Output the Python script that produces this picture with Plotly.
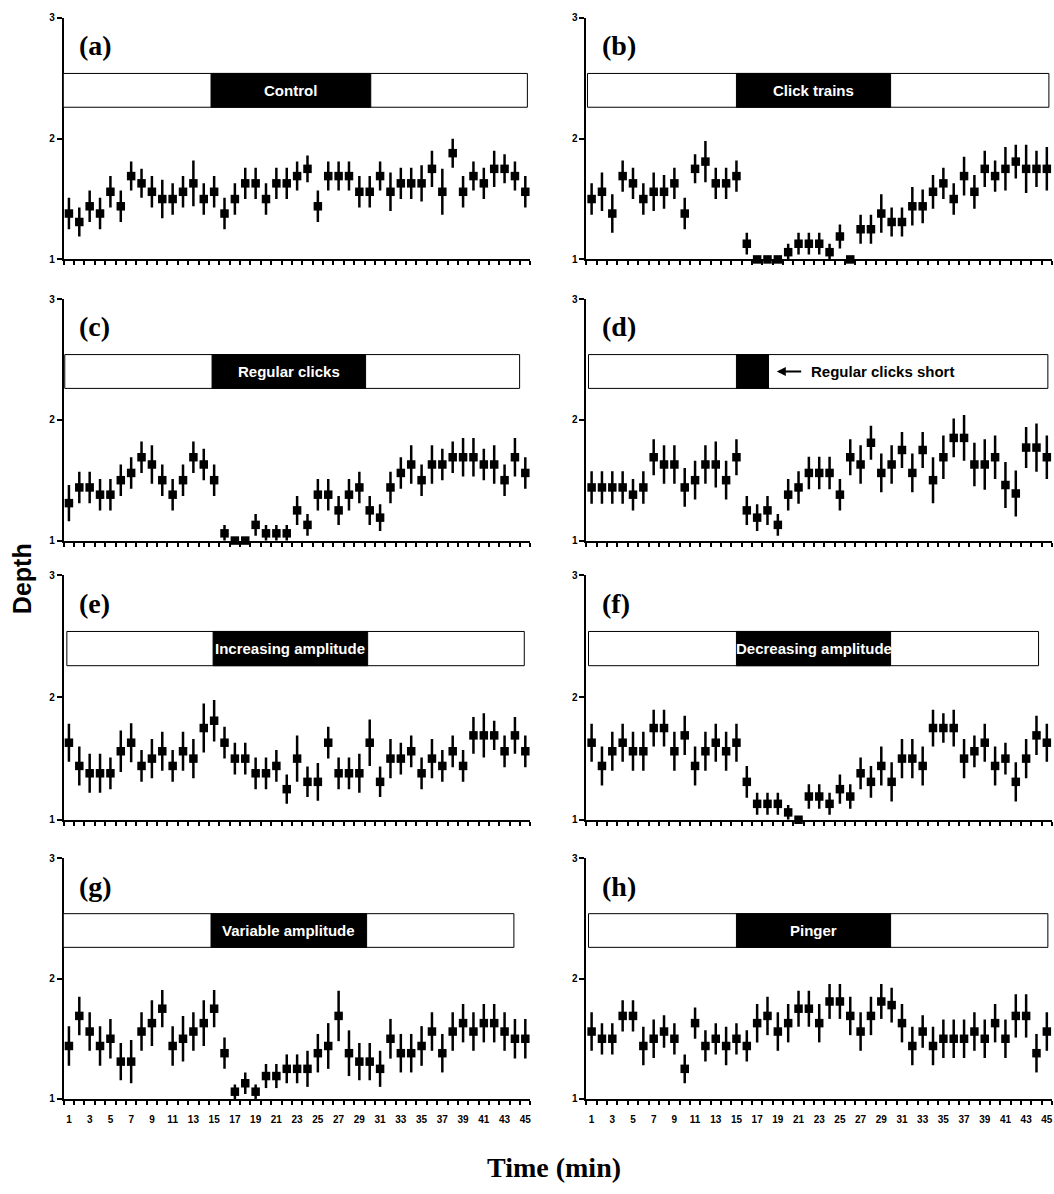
import plotly.graph_objects as go

# ---- data -------------------------------------------------------------
minutes = list(range(1, 46))
tick_labels = [str(m) for m in range(1, 46, 2)]

panel_letters = ["(a)", "(b)", "(c)", "(d)", "(e)", "(f)", "(g)", "(h)"]
treatments = ["Control", "Click trains", "Regular clicks", "Regular clicks short",
              "Increasing amplitude", "Decreasing amplitude", "Variable amplitude", "Pinger"]

control_mean = [1.38, 1.31, 1.44, 1.38, 1.56, 1.44, 1.69, 1.63, 1.56, 1.5, 1.5, 1.56, 1.63, 1.5, 1.56,
                1.38, 1.5, 1.63, 1.63, 1.5, 1.63, 1.63, 1.69, 1.75, 1.44, 1.69, 1.69, 1.69, 1.56, 1.56,
                1.69, 1.56, 1.63, 1.63, 1.63, 1.75, 1.56, 1.88, 1.56, 1.69, 1.63, 1.75, 1.75, 1.69, 1.56]
control_err = [0.13, 0.12, 0.13, 0.13, 0.13, 0.13, 0.12, 0.12, 0.13, 0.16, 0.13, 0.13, 0.19, 0.13, 0.13,
               0.13, 0.13, 0.13, 0.13, 0.13, 0.13, 0.13, 0.12, 0.11, 0.13, 0.12, 0.12, 0.12, 0.13, 0.13,
               0.12, 0.16, 0.13, 0.13, 0.15, 0.15, 0.19, 0.12, 0.13, 0.12, 0.13, 0.15, 0.12, 0.12, 0.13]

click_mean = [1.5, 1.56, 1.38, 1.69, 1.63, 1.5, 1.56, 1.56, 1.63, 1.38, 1.75, 1.81, 1.63, 1.63, 1.69,
              1.13, 1.0, 1.0, 1.0, 1.06, 1.13, 1.13, 1.13, 1.06, 1.19, 1.0, 1.25, 1.25, 1.38, 1.31,
              1.31, 1.44, 1.44, 1.56, 1.63, 1.5, 1.69, 1.56, 1.75, 1.69, 1.75, 1.81, 1.75, 1.75, 1.75]
click_err = [0.13, 0.16, 0.16, 0.13, 0.13, 0.13, 0.16, 0.14, 0.13, 0.13, 0.12, 0.17, 0.13, 0.13, 0.13,
             0.09, 0.0, 0.0, 0.0, 0.07, 0.09, 0.09, 0.09, 0.07, 0.1, 0.0, 0.12, 0.12, 0.16, 0.12,
             0.12, 0.16, 0.14, 0.14, 0.13, 0.13, 0.16, 0.14, 0.15, 0.13, 0.18, 0.14, 0.2, 0.15, 0.18]

regular_mean = [1.31, 1.44, 1.44, 1.38, 1.38, 1.5, 1.56, 1.69, 1.63, 1.5, 1.38, 1.5, 1.69, 1.63, 1.5,
                1.06, 1.0, 1.0, 1.13, 1.06, 1.06, 1.06, 1.25, 1.13, 1.38, 1.38, 1.25, 1.38, 1.44, 1.25,
                1.19, 1.44, 1.56, 1.63, 1.5, 1.63, 1.63, 1.69, 1.69, 1.69, 1.63, 1.63, 1.5, 1.69, 1.56]
regular_err = [0.15, 0.13, 0.13, 0.13, 0.13, 0.13, 0.13, 0.13, 0.16, 0.13, 0.13, 0.13, 0.13, 0.13, 0.13,
               0.07, 0.0, 0.0, 0.09, 0.07, 0.07, 0.07, 0.12, 0.09, 0.13, 0.13, 0.12, 0.13, 0.13, 0.12,
               0.11, 0.13, 0.13, 0.16, 0.13, 0.16, 0.13, 0.13, 0.16, 0.16, 0.13, 0.16, 0.13, 0.16, 0.13]

short_mean = [1.44, 1.44, 1.44, 1.44, 1.38, 1.44, 1.69, 1.63, 1.63, 1.44, 1.5, 1.63, 1.63, 1.5, 1.69,
              1.25, 1.19, 1.25, 1.13, 1.38, 1.44, 1.56, 1.56, 1.56, 1.38, 1.69, 1.63, 1.81, 1.56, 1.63,
              1.75, 1.56, 1.75, 1.5, 1.69, 1.85, 1.85, 1.63, 1.63, 1.69, 1.46, 1.39, 1.77, 1.77, 1.69]
short_err = [0.135, 0.135, 0.135, 0.135, 0.13, 0.135, 0.15, 0.16, 0.16, 0.16, 0.16, 0.16, 0.19, 0.16, 0.15,
             0.12, 0.11, 0.12, 0.09, 0.13, 0.135, 0.135, 0.135, 0.135, 0.13, 0.15, 0.16, 0.14, 0.16, 0.16,
             0.15, 0.16, 0.15, 0.19, 0.18, 0.16, 0.19, 0.18, 0.21, 0.18, 0.19, 0.19, 0.17, 0.2, 0.18]

increasing_mean = [1.63, 1.44, 1.38, 1.38, 1.38, 1.56, 1.63, 1.44, 1.5, 1.56, 1.44, 1.56, 1.5, 1.75, 1.81,
                   1.63, 1.5, 1.5, 1.38, 1.38, 1.44, 1.25, 1.5, 1.31, 1.31, 1.63, 1.38, 1.38, 1.38, 1.63,
                   1.31, 1.5, 1.5, 1.56, 1.38, 1.5, 1.44, 1.56, 1.44, 1.69, 1.69, 1.69, 1.56, 1.69, 1.56]
increasing_err = [0.155, 0.16, 0.16, 0.16, 0.13, 0.17, 0.16, 0.13, 0.16, 0.16, 0.13, 0.16, 0.16, 0.2, 0.17,
                  0.13, 0.13, 0.13, 0.13, 0.13, 0.13, 0.12, 0.19, 0.125, 0.155, 0.13, 0.13, 0.13, 0.16, 0.19,
                  0.125, 0.16, 0.13, 0.13, 0.13, 0.16, 0.13, 0.13, 0.13, 0.15, 0.18, 0.12, 0.13, 0.15, 0.13]

decreasing_mean = [1.63, 1.44, 1.56, 1.63, 1.56, 1.56, 1.75, 1.75, 1.56, 1.69, 1.44, 1.56, 1.63, 1.56, 1.63,
                   1.31, 1.13, 1.13, 1.13, 1.06, 1.0, 1.19, 1.19, 1.13, 1.25, 1.19, 1.38, 1.31, 1.44, 1.31,
                   1.5, 1.5, 1.44, 1.75, 1.75, 1.75, 1.5, 1.56, 1.63, 1.44, 1.5, 1.31, 1.5, 1.69, 1.63]
decreasing_err = [0.155, 0.16, 0.16, 0.155, 0.16, 0.16, 0.15, 0.15, 0.16, 0.16, 0.16, 0.16, 0.155, 0.16, 0.155,
                  0.13, 0.09, 0.09, 0.09, 0.06, 0.0, 0.1, 0.1, 0.09, 0.12, 0.1, 0.13, 0.13, 0.16, 0.16,
                  0.16, 0.16, 0.16, 0.15, 0.12, 0.15, 0.16, 0.13, 0.155, 0.16, 0.13, 0.16, 0.16, 0.16, 0.155]

variable_mean = [1.44, 1.69, 1.56, 1.44, 1.5, 1.31, 1.31, 1.56, 1.63, 1.75, 1.44, 1.5, 1.56, 1.63, 1.75,
                 1.38, 1.06, 1.13, 1.06, 1.19, 1.19, 1.25, 1.25, 1.25, 1.38, 1.44, 1.69, 1.38, 1.31, 1.31,
                 1.25, 1.5, 1.38, 1.38, 1.44, 1.56, 1.38, 1.56, 1.63, 1.56, 1.63, 1.63, 1.56, 1.5, 1.5]
variable_err = [0.165, 0.16, 0.16, 0.165, 0.165, 0.155, 0.18, 0.16, 0.19, 0.155, 0.165, 0.19, 0.16, 0.19, 0.155,
                0.13, 0.06, 0.09, 0.06, 0.1, 0.1, 0.12, 0.12, 0.15, 0.16, 0.19, 0.21, 0.19, 0.155, 0.155,
                0.15, 0.165, 0.16, 0.16, 0.165, 0.16, 0.16, 0.16, 0.16, 0.16, 0.16, 0.16, 0.16, 0.165, 0.165]

pinger_mean = [1.56, 1.5, 1.5, 1.69, 1.69, 1.44, 1.5, 1.56, 1.5, 1.25, 1.63, 1.44, 1.5, 1.44, 1.5,
               1.44, 1.63, 1.69, 1.56, 1.63, 1.75, 1.75, 1.63, 1.81, 1.81, 1.69, 1.56, 1.69, 1.81, 1.78,
               1.63, 1.44, 1.56, 1.44, 1.5, 1.5, 1.5, 1.56, 1.5, 1.63, 1.5, 1.69, 1.69, 1.38, 1.56]
pinger_err = [0.16, 0.13, 0.13, 0.13, 0.13, 0.16, 0.16, 0.135, 0.13, 0.12, 0.13, 0.13, 0.13, 0.16, 0.13,
              0.13, 0.16, 0.16, 0.16, 0.16, 0.15, 0.15, 0.16, 0.145, 0.145, 0.16, 0.16, 0.16, 0.145, 0.145,
              0.16, 0.16, 0.135, 0.16, 0.16, 0.16, 0.16, 0.16, 0.16, 0.16, 0.16, 0.18, 0.18, 0.16, 0.16]

# exposure period (black) and whole-session (white) extents, in minutes
session_start = [0.45, 0.6, 0.6, 0.7, 0.8, 0.7, 0.45, 0.7]
session_end = [45.2, 45.2, 44.45, 45.1, 44.9, 44.2, 43.9, 45.1]
exposure_start = [14.7, 15.0, 14.8, 15.0, 14.9, 15.0, 14.7, 15.0]
exposure_end = [30.1, 29.9, 29.6, 18.1, 29.8, 29.9, 29.7, 29.9]

means = [control_mean, click_mean, regular_mean, short_mean,
         increasing_mean, decreasing_mean, variable_mean, pinger_mean]
errors = [control_err, click_err, regular_err, short_err,
          increasing_err, decreasing_err, variable_err, pinger_err]

# ---- layout geometry (paper fractions) ----------------------------------
W, H = 1054, 1194
col_domains = [[63.8 / W, 531.0 / W], [587.0 / W, 1053.0 / W]]
row_px = [(12, 256), (296, 540), (575, 822), (861, 1104)]
row_domains = [[1 - b / H, 1 - t / H] for t, b in row_px]

SANS = "Liberation Sans, Arial, Helvetica, sans-serif"
SERIF = "Liberation Serif, Times New Roman, serif"

fig = go.Figure()
layout = dict(
    width=W, height=H,
    margin=dict(l=0, r=0, t=0, b=0),
    paper_bgcolor="white", plot_bgcolor="white",
    showlegend=False,
)

shapes = []
annotations = []
half_ticks = [k + 0.5 for k in range(0, 46)]
BOX_Y0, BOX_Y1 = 2.26, 2.54

for i in range(8):
    row, col = divmod(i, 2)
    n = i + 1
    xname = "x" if n == 1 else f"x{n}"
    yname = "y" if n == 1 else f"y{n}"
    xkey = "xaxis" if n == 1 else f"xaxis{n}"
    ykey = "yaxis" if n == 1 else f"yaxis{n}"
    bottom = row == 3

    fig.add_trace(go.Scatter(
        x=minutes, y=means[i], mode="markers",
        marker=dict(symbol="square", size=8.5, color="black"),
        error_y=dict(type="data", array=errors[i], visible=True,
                     color="black", thickness=2.5, width=0),
        cliponaxis=False,
        xaxis=xname, yaxis=yname,
    ))

    layout[xkey] = dict(
        domain=col_domains[col], anchor=yname,
        range=[0.5, 45.5], showgrid=False, zeroline=False,
        showline=True, linecolor="black", linewidth=2,
        tickmode="array",
        tickvals=list(range(1, 46, 2)), ticktext=tick_labels,
        ticks="outside", ticklen=10, tickcolor="rgba(0,0,0,0)",
        showticklabels=bottom,
        tickfont=dict(family=SANS, size=10, color="black", weight="bold"),
        minor=dict(tickmode="array", tickvals=half_ticks, ticks="outside",
                   ticklen=4, tickwidth=1.5, tickcolor="black"),
    )
    layout[ykey] = dict(
        domain=row_domains[row], anchor=xname,
        range=[1, 3], showgrid=False, zeroline=False,
        showline=True, linecolor="black", linewidth=2,
        tickmode="array", tickvals=[1, 2, 3], ticktext=["1", "2", "3"],
        ticks="outside", ticklen=5, tickwidth=1.5, tickcolor="black",
        tickfont=dict(family=SANS, size=10, color="black", weight="bold"),
    )

    # session bar with the exposure period in black
    shapes.append(dict(type="rect", xref=xname, yref=yname,
                       x0=session_start[i], x1=session_end[i], y0=BOX_Y0, y1=BOX_Y1,
                       fillcolor="white", line=dict(color="black", width=1)))
    shapes.append(dict(type="rect", xref=xname, yref=yname,
                       x0=exposure_start[i], x1=exposure_end[i], y0=BOX_Y0, y1=BOX_Y1,
                       fillcolor="black", line=dict(color="black", width=1)))

    annotations.append(dict(
        text=f"<b>{panel_letters[i]}</b>", xref=xname, yref=yname,
        x=1.8, y=2.77, xanchor="left", yanchor="middle", showarrow=False,
        font=dict(family=SERIF, size=28, color="black"),
    ))

    if i == 3:
        annotations.append(dict(
            text="", xref=xname, yref=yname, x=18.9, y=2.40,
            axref=xname, ayref=yname, ax=21.4, ay=2.40,
            showarrow=True, arrowhead=2, arrowsize=1, arrowwidth=1.8, arrowcolor="black",
        ))
        annotations.append(dict(
            text=f"<b>{treatments[i]}</b>", xref=xname, yref=yname,
            x=22.0, y=2.40, xanchor="left", yanchor="middle", showarrow=False,
            font=dict(family=SANS, size=15, color="black"),
        ))
    else:
        annotations.append(dict(
            text=f"<b>{treatments[i]}</b>", xref=xname, yref=yname,
            x=(exposure_start[i] + exposure_end[i]) / 2, y=2.40,
            xanchor="center", yanchor="middle", showarrow=False,
            font=dict(family=SANS, size=15, color="white"),
        ))

annotations.append(dict(
    text="<b>Depth</b>", xref="paper", yref="paper",
    x=22 / W, y=1 - 578 / H, xanchor="center", yanchor="middle",
    textangle=-90, showarrow=False,
    font=dict(family=SANS, size=25, color="black"),
))
annotations.append(dict(
    text="<b>Time (min)</b>", xref="paper", yref="paper",
    x=555 / W, y=1 - 1173 / H, xanchor="center", yanchor="middle",
    showarrow=False,
    font=dict(family=SERIF, size=28, color="black"),
))

layout["shapes"] = shapes
layout["annotations"] = annotations
fig.update_layout(**layout)

fig.write_html("out.html")
